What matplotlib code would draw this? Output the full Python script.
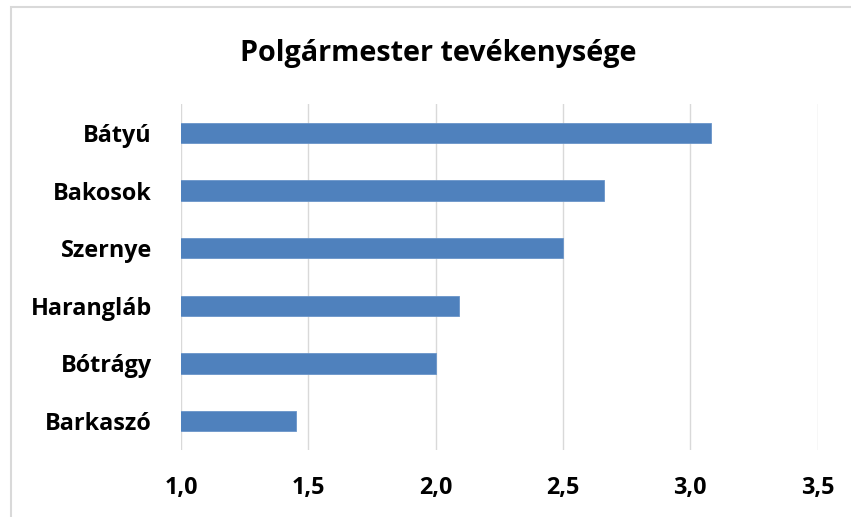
import matplotlib
matplotlib.use("Agg")
from matplotlib import pyplot as plt
from matplotlib.patches import Rectangle

# data
villages = ["Barkaszó", "Bótrágy", "Harangláb", "Szernye", "Bakosok", "Bátyú"]
scores = [1.45, 2.00, 2.09, 2.50, 2.66, 3.08]
x_ticks = [1.0, 1.5, 2.0, 2.5, 3.0, 3.5]
x_tick_labels = ["1,0", "1,5", "2,0", "2,5", "3,0", "3,5"]
title = "Polgármester tevékenysége"

plt.rcParams["font.family"] = ["Open Sans", "DejaVu Sans"]
plt.rcParams["font.weight"] = "bold"

W, H = 851, 517
fig = plt.figure(figsize=(W / 100, H / 100), dpi=100)

# light grey chart frame (right and bottom edges fall outside the picture)
fig.patches.append(Rectangle((11 / W, -0.1), 1.2, (H - 7) / H + 0.1,
                             transform=fig.transFigure, fill=False,
                             edgecolor="#d9d9d9", linewidth=1.5))

ax = fig.add_axes([181 / W, (H - 450) / H, (817.5 - 181) / W, (450 - 104) / H])
ax.barh(range(len(villages)), scores, height=0.35, color="#4f81bd",
        edgecolor="#6a95c9", linewidth=0.6, zorder=3)

ax.set_xlim(1.0, 3.5)
ax.set_ylim(-0.5, len(villages) - 0.5)
ax.set_xticks(x_ticks)
ax.set_xticklabels(x_tick_labels)
ax.set_yticks(range(len(villages)))
ax.set_yticklabels(villages)
ax.tick_params(axis="both", length=0, labelsize=16.8, colors="black")
ax.tick_params(axis="x", pad=19)
ax.tick_params(axis="y", pad=21)

ax.grid(axis="x", color="#d9d9d9", linewidth=1.0, zorder=0)
for s in ax.spines.values():
    s.set_visible(False)

fig.text(438 / W, (H - 53) / H, title, ha="center", va="center",
         fontsize=20.7, fontweight="bold")

fig.savefig("out.png", dpi=100)
